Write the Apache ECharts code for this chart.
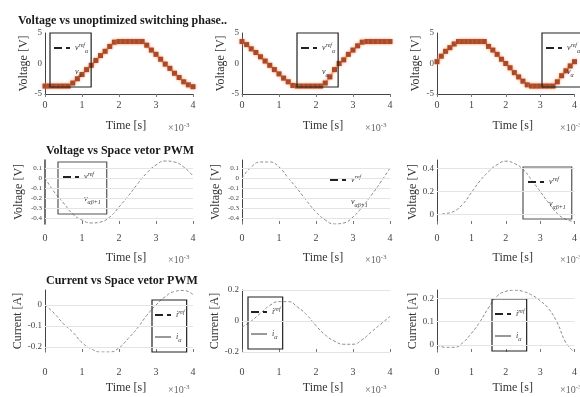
<!DOCTYPE html>
<html>
<head>
<meta charset="utf-8">
<script src="https://cdn.jsdelivr.net/npm/echarts@6/dist/echarts.min.js"></script>
<style>
html, body { margin: 0; padding: 0; background: #fff; }
#chart { width: 580px; height: 397px; }
</style>
</head>
<body>
<div id="chart"></div>
<script>
// time in ms (axis shows x10^-3 s)
const tSwitch = [0, 0.125, 0.25, 0.375, 0.5, 0.625, 0.75, 0.875, 1, 1.125, 1.25, 1.375, 1.5, 1.625, 1.75, 1.875,
  2, 2.125, 2.25, 2.375, 2.5, 2.625, 2.75, 2.875, 3, 3.125, 3.25, 3.375, 3.5, 3.625, 3.75, 3.875, 4];
const tSmooth = [0, 0.25, 0.5, 0.75, 1, 1.25, 1.5, 1.75, 2, 2.25, 2.5, 2.75, 3, 3.25, 3.5, 3.75, 4];

// row 1: unoptimized switching phase voltages
const vPhaseA = [-3.7, -3.7, -3.7, -3.7, -3.7, -3.7, -3.2, -2.5, -1.8, -1.0, -0.3, 0.5, 1.3, 2.0, 2.8, 3.5,
  3.6, 3.6, 3.6, 3.6, 3.6, 3.6, 3.0, 2.2, 1.5, 0.7, -0.1, -0.8, -1.6, -2.3, -3.0, -3.5, -3.8];
const vPhaseB = [3.6, 3.1, 2.4, 1.8, 1.1, 0.4, -0.3, -1.0, -1.7, -2.4, -3.0, -3.6, -3.7, -3.7, -3.7, -3.7,
  -3.7, -3.7, -3.2, -2.2, -1.0, 0.0, 0.6, 1.5, 2.2, 2.9, 3.5, 3.6, 3.6, 3.6, 3.6, 3.6, 3.6];
const vPhaseC = [0.3, 1.2, 2.0, 2.6, 3.2, 3.6, 3.6, 3.6, 3.6, 3.6, 3.6, 3.6, 2.8, 2.2, 1.5, 0.7,
  0.0, -0.7, -1.5, -2.2, -2.9, -3.5, -3.7, -3.7, -3.7, -3.7, -3.7, -3.7, -3.0, -2.0, -1.2, -0.4, 0.3];

// row 2: voltage with space vector PWM
const vSvmA = [0.0, -0.14, -0.25, -0.36, -0.42, -0.45, -0.44, -0.39, -0.29, -0.18, -0.06, 0.05, 0.13, 0.17, 0.16, 0.11, 0.02];
const vSvmB = [0.0, 0.11, 0.16, 0.16, 0.11, 0.0, -0.11, -0.23, -0.34, -0.42, -0.46, -0.45, -0.39, -0.29, -0.17, -0.04, 0.1];
const vSvmC = [0.0, 0.01, 0.03, 0.09, 0.19, 0.29, 0.37, 0.43, 0.46, 0.44, 0.39, 0.3, 0.2, 0.1, 0.01, -0.04, -0.06];

// row 3: current with space vector PWM
const iSvmA = [0.0, -0.04, -0.09, -0.13, -0.18, -0.21, -0.225, -0.225, -0.205, -0.16, -0.11, -0.05, 0.0, 0.04, 0.065, 0.07, 0.05];
const iSvmB = [-0.04, 0.0, 0.05, 0.1, 0.125, 0.125, 0.09, 0.04, -0.03, -0.09, -0.13, -0.15, -0.15, -0.12, -0.07, -0.02, 0.03];
const iSvmC = [0.0, -0.01, -0.01, 0.01, 0.05, 0.1, 0.16, 0.21, 0.23, 0.235, 0.23, 0.215, 0.19, 0.155, 0.095, 0.01, -0.03];

const rowTitles = ['Voltage vs unoptimized switching phase..', 'Voltage vs Space vetor PWM', 'Current vs Space vetor PWM'];
const yNames = ['Voltage [V]', 'Voltage [V]', 'Current [A]'];
const xName = 'Time [s]';
const xScale = '×10';
const xScaleExp = '-3';
const legendLabels = [
  ['v{sup|ref}{sub|α}', 'v{sub|α}'],
  ['v{sup|ref}', 'v{sub|αβ+1}'],
  ['i{sup|ref}', 'i{sub|α}']
];

const yTicks = [
  [[-5, 0, 5], [-5, 0, 5], [-5, 0, 5]],
  [[0.1, 0, -0.1, -0.2, -0.3, -0.4], [0.1, 0, -0.1, -0.2, -0.3, -0.4], [0, 0.2, 0.4]],
  [[0, -0.1, -0.2], [-0.2, 0, 0.2], [0, 0.1, 0.2]]
];
const yRanges = [
  [[-5, 5], [-5, 5], [-5, 5]],
  [[-0.46, 0.18], [-0.46, 0.18], [-0.08, 0.47]],
  [[-0.225, 0.072], [-0.2, 0.2], [-0.03, 0.236]]
];

const panels = [
  [{t: tSwitch, v: vPhaseA}, {t: tSwitch, v: vPhaseB}, {t: tSwitch, v: vPhaseC}],
  [{t: tSmooth, v: vSvmA}, {t: tSmooth, v: vSvmB}, {t: tSmooth, v: vSvmC}],
  [{t: tSmooth, v: iSvmA}, {t: tSmooth, v: iSvmB}, {t: tSmooth, v: iSvmC}]
];

// layout
const cols = [{left: 45, width: 148}, {left: 242, width: 148}, {left: 437, width: 148}];
const rows = [{top: 33, height: 61}, {top: 160, height: 64}, {top: 290, height: 62}];
const titleTops = [10, 140, 270];
const labelMargin = [6, 9, 15];
const nameGapX = [26, 28, 30];
const legendBoxes = [
  [{left: 50, top: 33, pad: [9, 3, 9, 3], border: '#222'}, {left: 297, top: 33, pad: [9, 3, 9, 3], border: '#222'}, {left: 542, top: 33, pad: [9, 3, 9, 3], border: '#222'}],
  [{left: 58, top: 162, pad: [9, 6, 9, 4], border: '#555'}, {left: 325, top: 165, pad: [9, 6, 9, 4], border: 'transparent'}, {left: 523, top: 167, pad: [9, 6, 9, 4], border: '#555'}],
  [{left: 152, top: 300, pad: [9, 2, 9, 2], border: '#222'}, {left: 248, top: 297, pad: [9, 2, 9, 2], border: '#222'}, {left: 492, top: 299, pad: [9, 2, 9, 2], border: '#222'}]
];

const serif = 'Liberation Serif';
const grid = [], xAxis = [], yAxis = [], series = [], legend = [], title = [];
const legendText = {};
const hidden = 'rgba(0,0,0,0)';

rows.forEach((row, r) => {
  title.push({
    text: rowTitles[r],
    left: r === 0 ? 13 : 41,
    top: titleTops[r],
    textStyle: {fontFamily: serif, fontSize: 12, fontWeight: 'bold', color: '#1a1a1a'}
  });
  cols.forEach((col, c) => {
    const idx = grid.length;
    grid.push({left: col.left, width: col.width, top: row.top, height: row.height});
    xAxis.push({
      type: 'value', gridIndex: idx, min: 0, max: 4, interval: 1,
      name: xName, nameLocation: 'middle', nameGap: nameGapX[r],
      nameTextStyle: {fontFamily: serif, fontSize: 12, color: '#333', padding: [0, 0, 0, 14]},
      axisLine: {show: r === 0, onZero: false, lineStyle: {color: '#444'}},
      axisTick: {show: true, inside: r > 0, length: 3, lineStyle: {color: '#777'}},
      axisLabel: {fontFamily: serif, fontSize: 10, color: '#444', margin: labelMargin[r]},
      splitLine: {show: false}
    });
    yAxis.push({
      type: 'value', gridIndex: idx, min: yRanges[r][c][0], max: yRanges[r][c][1],
      name: yNames[r], nameLocation: 'middle', nameGap: r === 1 && c < 2 ? 20 : 15, nameRotate: 90,
      nameTextStyle: {fontFamily: serif, fontSize: 12, color: '#333'},
      axisLine: {show: true, onZero: false, lineStyle: {color: '#444', width: r === 1 && c === 0 ? 1.5 : 1}},
      axisTick: {show: false, customValues: yTicks[r][c]},
      axisLabel: {fontFamily: serif, fontSize: r === 1 && c < 2 ? 7 : 9, color: '#444', margin: 3,
        customValues: yTicks[r][c]},
      splitLine: {show: false}
    });
    const p = panels[r][c];
    const data = p.t.map((t, i) => [t, p.v[i]]);
    if (r === 0) {
      series.push({
        type: 'line', xAxisIndex: idx, yAxisIndex: idx, data,
        symbol: 'rect', symbolSize: 5,
        itemStyle: {color: '#a9482a', shadowColor: 'rgba(245,150,90,0.8)', shadowBlur: 3},
        lineStyle: {color: '#f4b48c', width: 2, shadowColor: 'rgba(245,160,100,0.5)', shadowBlur: 2},
        z: 3
      });
    } else {
      series.push({
        type: 'line', xAxisIndex: idx, yAxisIndex: idx, data,
        symbol: 'none', smooth: true,
        lineStyle: {color: '#8a8a8a', width: 1, type: [3, 2]},
        markLine: {
          silent: true, symbol: 'none', label: {show: false},
          lineStyle: {color: '#e4e4e4', type: 'solid', width: 1},
          data: yTicks[r][c].map(v => ({yAxis: v}))
        },
        z: 3
      });
    }
    // legend placeholders
    const refName = 'ref' + idx, subName = 'sub' + idx;
    legendText[refName] = legendLabels[r][0];
    legendText[subName] = legendLabels[r][1];
    series.push({name: refName, type: 'line', xAxisIndex: idx, yAxisIndex: idx, data: [], symbol: 'none',
      itemStyle: {color: hidden}, lineStyle: {color: '#222', width: 1, type: 'dashed'}});
    series.push({name: subName, type: 'line', xAxisIndex: idx, yAxisIndex: idx, data: [], symbol: 'none',
      itemStyle: {color: hidden}, lineStyle: {color: r === 2 ? '#999' : hidden, width: 1}});
    const lb = legendBoxes[r][c];
    legend.push({
      data: [refName, subName], orient: 'vertical', left: lb.left, top: lb.top,
      padding: lb.pad, itemGap: 14, itemWidth: 16, itemHeight: 8,
      borderColor: lb.border, borderWidth: 1.2, backgroundColor: 'transparent',
      selectedMode: false,
      itemStyle: {color: hidden, borderWidth: 0},
      formatter: name => legendText[name],
      textStyle: {fontFamily: serif, fontStyle: 'italic', fontSize: 8, color: '#333',
        rich: {sup: {fontSize: 6, padding: [0, 0, 6, 0], color: '#333'}, sub: {fontSize: 6, padding: [6, 0, 0, 0], color: '#333'}}}
    });
    title.push({
      text: xScale + '{e|' + xScaleExp + '}',
      left: col.left + 118, top: row.top + row.height + nameGapX[r] - 3,
      textStyle: {fontFamily: serif, fontSize: 10, fontWeight: 'normal', color: '#666',
        rich: {e: {fontSize: 7, padding: [0, 0, 6, 0], color: '#666'}}}
    });
  });
});

const chart = echarts.init(document.getElementById('chart'), null, {renderer: 'canvas'});
chart.setOption({
  animation: false,
  backgroundColor: '#fff',
  title, grid, xAxis, yAxis, series, legend
});
</script>
</body>
</html>
